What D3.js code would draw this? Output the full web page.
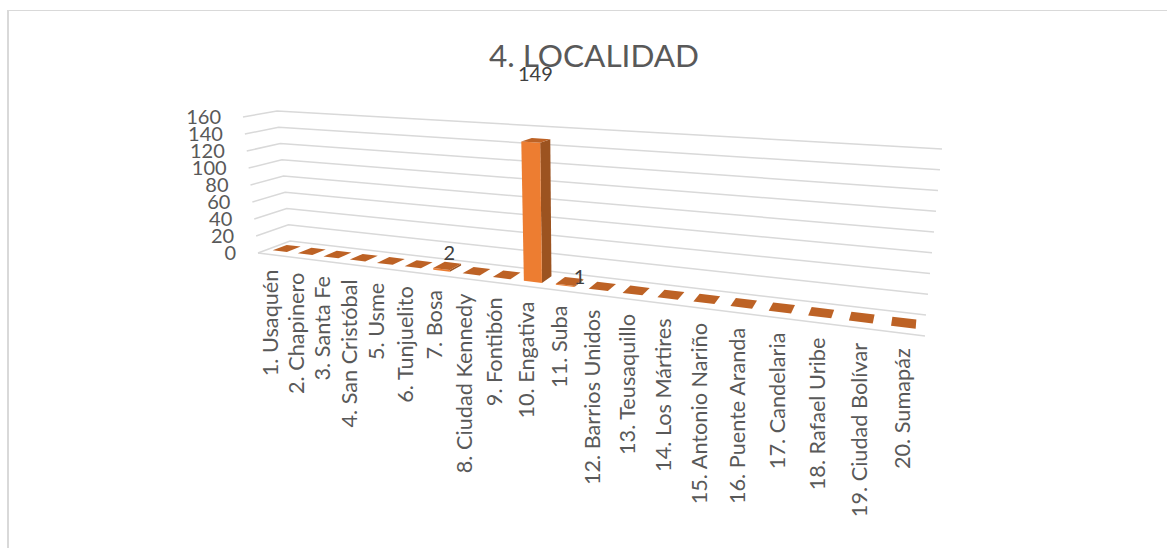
<!DOCTYPE html>
<html>
  <head>
    <meta charset="utf-8">
    <title>4. LOCALIDAD</title>
    <script src="https://d3js.org/d3.v7.min.js"></script>
    <style>
      html, body { margin: 0; padding: 0; background: #fff; overflow: hidden; }
      text { font-family: Lato, sans-serif; }
    </style>
  </head>
  <body>
    <script>
        var categories = ["1. Usaquén", "2. Chapinero", "3. Santa Fe", "4. San Cristóbal", "5. Usme",
            "6. Tunjuelito", "7. Bosa", "8. Ciudad Kennedy", "9. Fontibón", "10. Engativa", "11. Suba",
            "12. Barrios Unidos", "13. Teusaquillo", "14. Los Mártires", "15. Antonio Nariño",
            "16. Puente Aranda", "17. Candelaria", "18. Rafael Uribe", "19. Ciudad Bolívar", "20. Sumapáz"]
        var values = [0, 0, 0, 0, 0, 0, 2, 0, 0, 149, 1, 0, 0, 0, 0, 0, 0, 0, 0, 0]
        var yTicks = [0, 20, 40, 60, 80, 100, 120, 140, 160]

        var width = 1167, height = 548

        var svg = d3.select("body").append("svg")
            .attr("width", width)
            .attr("height", height)
            .style("display", "block");

        // chart frame, only top and left are inside the crop
        svg.append("line").attr("x1", 8).attr("x2", 8).attr("y1", 10).attr("y2", 548)
            .attr("stroke", "#d9d9d9").attr("stroke-width", 2);
        svg.append("line").attr("x1", 7).attr("x2", 1167).attr("y1", 10.5).attr("y2", 10.5)
            .attr("stroke", "#d9d9d9").attr("stroke-width", 1);

        // 3d box: u along categories, d back to front, v up the value axis
        // floor is a homography from its 4 corners, the top plane shares its denominator
        var pBL = [290, 241], pBR = [926, 315], pFR = [925, 336], pFL = [258, 253];
        var tBL = [277, 111], tBR = [942, 149], tFL = [243, 117];

        var dx1 = pBR[0] - pFR[0], dx2 = pFL[0] - pFR[0], sx = pBL[0] - pBR[0] + pFR[0] - pFL[0];
        var dy1 = pBR[1] - pFR[1], dy2 = pFL[1] - pFR[1], sy = pBL[1] - pBR[1] + pFR[1] - pFL[1];
        var den = dx1 * dy2 - dx2 * dy1;
        var g = (sx * dy2 - dx2 * sy) / den;
        var h = (dx1 * sy - sx * dy1) / den;

        function plane(p00, p10, p01) {
            var ax = p10[0] * (1 + g) - p00[0], bx = p01[0] * (1 + h) - p00[0];
            var ay = p10[1] * (1 + g) - p00[1], by = p01[1] * (1 + h) - p00[1];
            return function(u, w) {
                var q = g * u + h * w + 1;
                return [(ax * u + bx * w + p00[0]) / q, (ay * u + by * w + p00[1]) / q];
            };
        }

        var floor = plane(pBL, pBR, pFL);
        var ceiling = plane(tBL, tBR, tFL);

        function project(u, v, d) {
            var f = floor(u, d), c = ceiling(u, d);
            return [f[0] + (c[0] - f[0]) * v, f[1] + (c[1] - f[1]) * v];
        }

        var x = d3.scaleBand().domain(categories).range([0, 1]).paddingInner(0.43).paddingOuter(0.22);
        var y = d3.scaleLinear().domain([0, 160]).range([0, 1]);
        var depth = d3.scaleLinear().domain([0, 1]).range([0.28, 0.72]);

        var line = d3.line();

        // gridlines on the back wall and the left wall
        var grid = svg.append("g")
            .attr("fill", "none")
            .attr("stroke", "#d9d9d9")
            .attr("stroke-width", 1.5);

        grid.selectAll("path")
            .data(yTicks)
            .enter()
            .append("path")
            .attr("d", function(t) {
                var v = y(t);
                return line([project(0, v, 1), project(0, v, 0), project(1, v, 0)]);
            });

        // floor front edge
        grid.append("path").attr("d", line([project(0, 0, 1), project(1, 0, 1)]));

        // y axis labels
        svg.append("g").selectAll("text")
            .data(yTicks)
            .enter()
            .append("text")
            .attr("x", function(t) { return project(0, y(t), 1)[0] - 22; })
            .attr("y", function(t) { return project(0, y(t), 1)[1] + 7; })
            .attr("text-anchor", "end")
            .attr("font-size", "20px")
            .attr("fill", "#595959")
            .text(function(t) { return t; });

        // bars
        function barFaces(name, value) {
            var u0 = x(name), u1 = x(name) + x.bandwidth();
            var d0 = depth(0), d1 = depth(1), v = y(value);
            return {
                front: [project(u0, 0, d1), project(u1, 0, d1), project(u1, v, d1), project(u0, v, d1)],
                side: [project(u1, 0, d1), project(u1, 0, d0), project(u1, v, d0), project(u1, v, d1)],
                top: [project(u0, v, d1), project(u1, v, d1), project(u1, v, d0), project(u0, v, d0)]
            };
        }

        var bars = svg.append("g").selectAll("g")
            .data(categories)
            .enter()
            .append("g");

        bars.append("path")
            .attr("d", function(c, i) { return line(barFaces(c, values[i]).side) + "Z"; })
            .attr("fill", "#9c5320");
        bars.append("path")
            .attr("d", function(c, i) { return line(barFaces(c, values[i]).front) + "Z"; })
            .attr("fill", "#ed7d31");
        bars.append("path")
            .attr("d", function(c, i) { return line(barFaces(c, values[i]).top) + "Z"; })
            .attr("fill", "#bd6225");

        // value labels, zero bars have none
        function labelAnchor(c) {
            var v = values[categories.indexOf(c)];
            var p = project(x(c) + x.bandwidth() / 2, y(v), 0.5);
            if (v > 100) return [p[0] - 0.5, p[1] - 59];
            if (v == 1) return [p[0] + 10, p[1] + 3];
            return [p[0] + 2, p[1] - 6];
        }

        svg.append("g").selectAll("text")
            .data(categories.filter(function(c, i) { return values[i] > 0; }))
            .enter()
            .append("text")
            .attr("x", function(c) { return labelAnchor(c)[0]; })
            .attr("y", function(c) { return labelAnchor(c)[1]; })
            .attr("text-anchor", "middle")
            .attr("font-size", "20px")
            .attr("fill", "#404040")
            .text(function(c) { return values[categories.indexOf(c)]; });

        // category labels
        svg.append("g").selectAll("text")
            .data(categories)
            .enter()
            .append("text")
            .attr("transform", function(c) {
                var p = project(x(c) + x.bandwidth() / 2, 0, 1);
                return "translate(" + p[0] + "," + (p[1] + 15) + ") rotate(-90)";
            })
            .attr("dy", "0.35em")
            .attr("text-anchor", "end")
            .attr("font-size", "21.7px")
            .attr("fill", "#595959")
            .text(function(c) { return c; });

        svg.append("text")
            .attr("x", 594)
            .attr("y", 67)
            .attr("text-anchor", "middle")
            .attr("font-size", "31.5px")
            .attr("fill", "#595959")
            .text("4. LOCALIDAD");
    </script>
  </body>
</html>
